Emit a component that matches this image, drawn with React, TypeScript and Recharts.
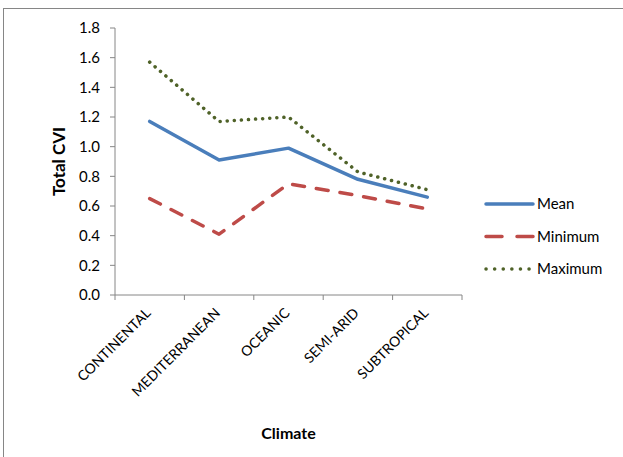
import { Legend, Line, LineChart, XAxis, YAxis } from "recharts";

const climates = ["CONTINENTAL", "MEDITERRANEAN", "OCEANIC", "SEMI-ARID", "SUBTROPICAL"];
const meanCvi = [1.17, 0.91, 0.99, 0.78, 0.66];
const minCvi = [0.65, 0.41, 0.75, 0.67, 0.58];
const maxCvi = [1.57, 1.17, 1.2, 0.83, 0.71];
const yTicks = [0, 0.2, 0.4, 0.6, 0.8, 1.0, 1.2, 1.4, 1.6, 1.8];

const data = climates.map((climate, i) => ({
  climate,
  Mean: meanCvi[i],
  Minimum: minCvi[i],
  Maximum: maxCvi[i],
}));

const FONT = "Lato, 'Open Sans', sans-serif";
const AXIS = "#868686";

// plot area geometry
const PLOT_LEFT = 115;
const PLOT_RIGHT = 462;
const HALF_BAND = (PLOT_RIGHT - PLOT_LEFT) / climates.length / 2;

const SERIES = [
  { key: "Mean", color: "#4a7ebb", dash: undefined as string | undefined, legendDash: undefined as string | undefined, cap: "round" as const },
  { key: "Minimum", color: "#be4b48", dash: "12 12", legendDash: "16 15", cap: "round" as const },
  { key: "Maximum", color: "#4f6228", dash: "0.1 7", legendDash: "0.1 8.5", cap: "round" as const },
];

// category label plus tick marks placed between categories
function ClimateTick({ x, y, payload, index }: any) {
  const axisY = y - 5;
  const last = index === climates.length - 1;
  return (
    <g>
      <line x1={x - HALF_BAND} x2={x - HALF_BAND} y1={axisY} y2={axisY + 5} stroke={AXIS} />
      {last && <line x1={x + HALF_BAND} x2={x + HALF_BAND} y1={axisY} y2={axisY + 5} stroke={AXIS} />}
      <text
        x={x + 2}
        y={axisY + 19}
        transform={`rotate(-45 ${x + 2} ${axisY + 19})`}
        textAnchor="end"
        fontSize={14}
        fontFamily={FONT}
        fill="#000"
      >
        {payload.value}
      </text>
    </g>
  );
}

function LegendBox() {
  return (
    <svg width={140} height={90}>
      {SERIES.map((s, i) => (
        <g key={s.key}>
          <line
            x1={6}
            x2={53}
            y1={13 + i * 32.5}
            y2={13 + i * 32.5}
            stroke={s.color}
            strokeWidth={3.5}
            strokeDasharray={s.legendDash}
            strokeLinecap={s.cap}
          />
          <text x={57} y={18 + i * 32.5} fontSize={15} fontFamily={FONT} fill="#000">
            {s.key}
          </text>
        </g>
      ))}
    </svg>
  );
}

export default function App() {
  return (
    <div style={{ position: "absolute", left: 0, top: 0, width: 623, height: 457, background: "#fff", overflow: "hidden" }}>
      <div
        style={{
          position: "absolute",
          left: 3,
          top: 8,
          width: 640,
          height: 470,
          border: "1px solid #868686",
          boxSizing: "border-box",
        }}
      />
      <LineChart
        width={623}
        height={457}
        data={data}
        margin={{ top: 28, right: 623 - PLOT_RIGHT, bottom: 0, left: 0 }}
        style={{ position: "absolute", left: 0, top: 0 }}
      >
        <XAxis
          dataKey="climate"
          height={162}
          padding={{ left: HALF_BAND, right: HALF_BAND }}
          axisLine={{ stroke: AXIS }}
          tickLine={false}
          tickSize={5}
          tickMargin={0}
          interval={0}
          tick={<ClimateTick />}
          label={{
            value: "Climate",
            position: "insideBottom",
            offset: 18,
            style: { fontFamily: FONT, fontSize: 16, fontWeight: 700, fill: "#000" },
          }}
        />
        <YAxis
          width={PLOT_LEFT}
          domain={[0, 1.8]}
          ticks={yTicks}
          interval={0}
          tickFormatter={(v: number) => v.toFixed(1)}
          axisLine={{ stroke: AXIS }}
          tickLine={{ stroke: AXIS }}
          tickSize={5}
          tickMargin={10}
          tick={{ fontFamily: FONT, fontSize: 15, fill: "#000" }}
          label={{
            value: "Total CVI",
            angle: -90,
            position: "insideLeft",
            offset: 59,
            style: { fontFamily: FONT, fontSize: 17, fontWeight: 700, fill: "#000", textAnchor: "middle" },
          }}
        />
        {SERIES.map((s) => (
          <Line
            key={s.key}
            dataKey={s.key}
            type="linear"
            stroke={s.color}
            strokeWidth={3.5}
            strokeDasharray={s.dash}
            strokeLinecap={s.cap}
            strokeLinejoin="round"
            dot={false}
            activeDot={false}
            isAnimationActive={false}
          />
        ))}
        <Legend
          layout="vertical"
          align="center"
          verticalAlign="middle"
          content={<LegendBox />}
          wrapperStyle={{ position: "absolute", left: 480, top: 191, width: 140 }}
        />
      </LineChart>
    </div>
  );
}
